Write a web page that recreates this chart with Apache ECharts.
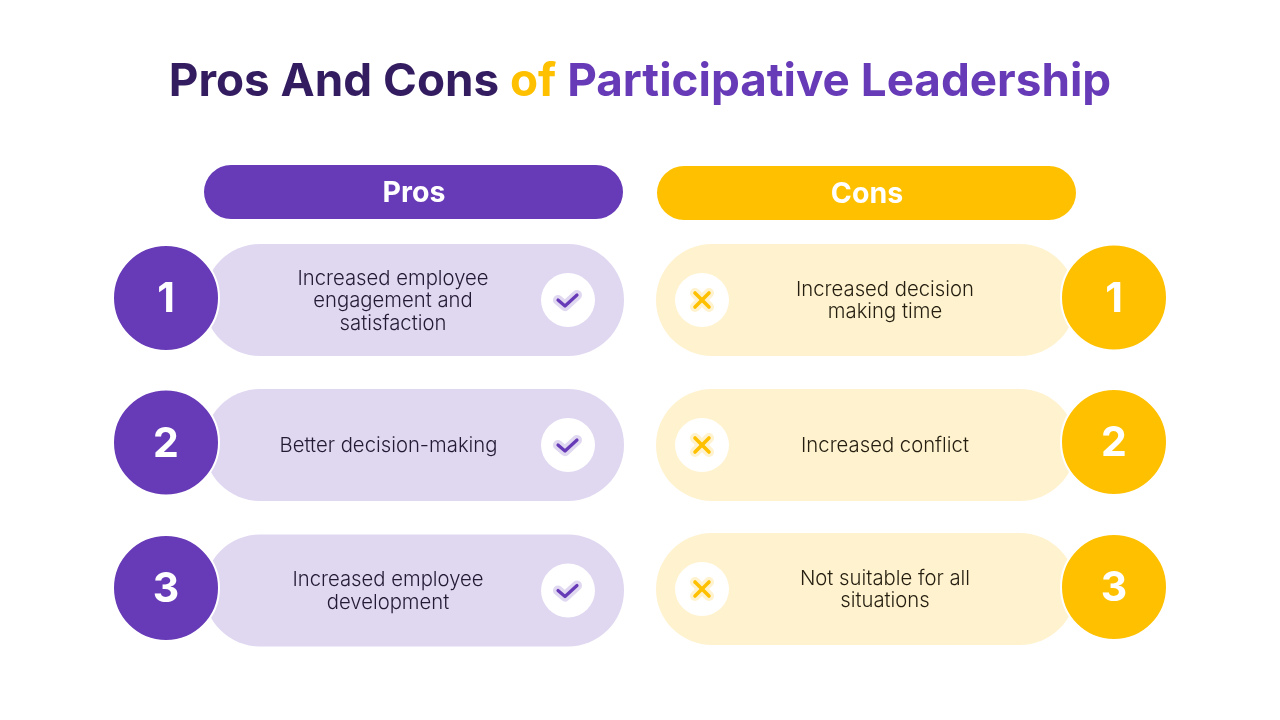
<!DOCTYPE html>
<html>
<head>
<meta charset="UTF-8">
<title>Pros And Cons of Participative Leadership</title>
<script type="text/javascript" src="https://cdn.jsdelivr.net/npm/echarts@6/dist/echarts.min.js"></script>
<style>
  html,body{margin:0;padding:0;background:#fff}
</style>
</head>
<body>
<div id="main" style="width:1280px;height:720px"></div>
<script type="text/javascript">
// chart content
var columns = ['Pros', 'Cons'];
var rows = ['1', '2', '3'];
var prosItems = ['Increased employee\nengagement and\nsatisfaction', 'Better decision-making', 'Increased employee\ndevelopment'];
var consItems = ['Increased decision\nmaking time', 'Increased conflict', 'Not suitable for all\nsituations'];

// look of each column, offsets are pixels from the axis band centre
var FAMILY = 'Inter, "Noto Sans", sans-serif';
var look = [
  {main: '#673AB7', pale: '#E0D7F1', ink: '#231A35', badgeX: -248, badgeY: [-2, -2.5, -2], iconX: 154, textX: [-21, -25.5, -26], headY: -108, headX: -0.5, nudge: [0, 0, 0.5]},
  {main: '#FFC000', pale: '#FFF2CE', ink: '#241E10', badgeX: 248, badgeY: [-2.5, -3, -3], iconX: -164, textX: [19, 19, 19], headY: -107, headX: 0.5, nudge: [0, 0, -1]}
];

function pillItem(cx, cy, w, h, color) {
  return {type: 'rect', shape: {x: cx - w / 2, y: cy - h / 2, width: w, height: h, r: h / 2}, style: {fill: color}};
}
function label(text, x, y, font, color, lineHeight) {
  return {type: 'text', style: {text: text, x: x, y: y, font: font, fill: color, align: 'center', verticalAlign: 'middle', lineHeight: lineHeight}};
}
function stroke(points, color, width) {
  return {type: 'polyline', shape: {points: points}, style: {stroke: color, lineWidth: width, fill: null, lineCap: 'round', lineJoin: 'round'}};
}
function markIcon(col, x, y, s) {
  var out = [{type: 'circle', shape: {cx: x, cy: y, r: 27}, style: {fill: '#fff'}}];
  if (col === 0) {
    var tick = [[x - 10, y], [x - 3, y + 6], [x + 9, y - 5]];
    out.push(stroke(tick, s.pale, 10), stroke(tick, s.main, 3.2));
  } else {
    var a = [[x - 7, y - 7], [x + 7, y + 7]];
    var b = [[x + 7, y - 7], [x - 7, y + 7]];
    out.push(stroke(a, s.pale, 10), stroke(b, s.pale, 10), stroke(a, s.main, 3.6), stroke(b, s.main, 3.6));
  }
  return out;
}

function renderRow(params, api) {
  var col = api.value(0), row = api.value(1);
  var s = look[col];
  var p = api.coord([col, row]);
  var x = p[0], y = p[1] + s.nudge[row];
  var items = col === 0 ? prosItems : consItems;
  var children = [pillItem(x, y, 420, 112, s.pale)];
  children.push(label(items[row], x + s.textX[row], y + 1, '300 20.3px ' + FAMILY, s.ink, 22.4));
  children = children.concat(markIcon(col, x + s.iconX, y, s));
  var by = p[1] + s.badgeY[row];
  children.push({type: 'circle', shape: {cx: x + s.badgeX, cy: by, r: 53}, style: {fill: s.main, stroke: '#fff', lineWidth: 2}});
  children.push(label(rows[row], x + s.badgeX, by + 2, '700 41px ' + FAMILY, '#fff'));
  return {type: 'group', children: children};
}

function renderHead(params, api) {
  var col = api.value(0);
  var s = look[col];
  var p = api.coord([col, 0]);
  var x = p[0] + s.headX, y = p[1] + s.headY;
  return {type: 'group', children: [
    pillItem(x, y, 419, 54, s.main),
    label(columns[col], x + 0.5, y + 1.5, '700 28.5px ' + FAMILY, '#fff')
  ]};
}

var rowData = [];
columns.forEach(function (c, col) {
  rows.forEach(function (r, row) { rowData.push([col, row]); });
});

function titlePart(color) {
  return {fontFamily: FAMILY, fontWeight: 700, fontSize: 45.8, lineHeight: 52, color: color};
}

var myEcharts = echarts.init(document.getElementById('main'), null, {renderer: 'canvas'});
var option = {
  animation: false,
  backgroundColor: '#fff',
  title: {
    left: 635, top: 51, textAlign: 'center',
    text: '{a|Pros And Cons }{b|of }{c|Participative Leadership}',
    textStyle: {
      rich: {a: titlePart('#341C60'), b: titlePart('#FFC000'), c: titlePart('#673AB7')}
    }
  },
  grid: {left: 188, top: 227.5, width: 904, height: 435},
  xAxis: {type: 'category', data: columns, show: false},
  yAxis: {type: 'category', data: rows, inverse: true, show: false},
  series: [
    {type: 'custom', silent: true, clip: false, renderItem: renderHead, data: [[0], [1]], encode: {x: 0}},
    {type: 'custom', silent: true, clip: false, renderItem: renderRow, data: rowData, encode: {x: 0, y: 1}}
  ]
};
myEcharts.setOption(option);
</script>
</body>
</html>
